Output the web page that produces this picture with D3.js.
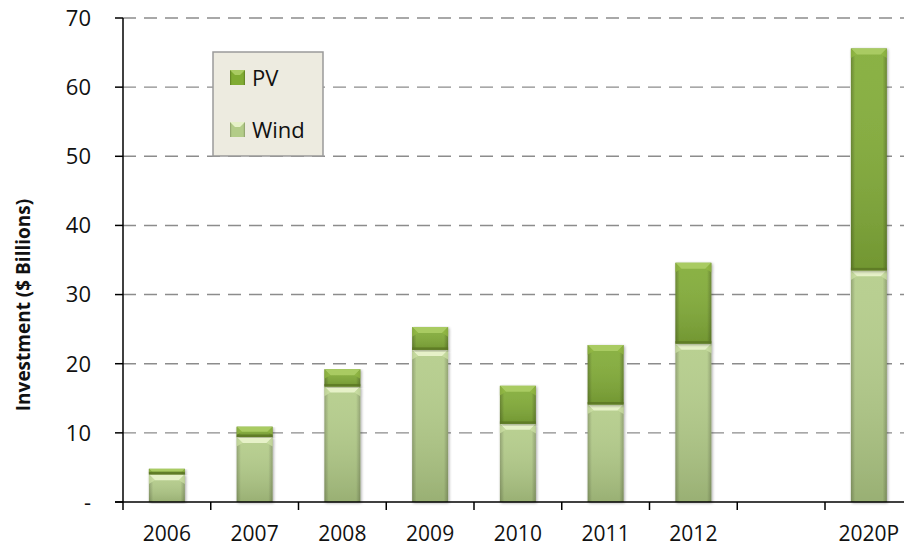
<!DOCTYPE html>
<html><head><meta charset="utf-8">
<script src="https://cdn.jsdelivr.net/npm/d3@7"></script>
<style>body{margin:0;background:#fff}svg{display:block}</style>
</head><body>
<svg id="c" width="904" height="548"></svg>
<script>
const categories = ["2006","2007","2008","2009","2010","2011","2012","","2020P"];
const windValues = [4.0, 9.4, 16.7, 22.0, 11.3, 14.1, 22.9, null, 33.5];
const pvValues   = [0.8, 1.5, 2.5, 3.3, 5.5, 8.6, 11.7, null, 32.1];
const yTicks = [0,10,20,30,40,50,60,70];
const seriesNames = ["PV","Wind"];

(function(){
const svg = d3.select("#c");
const FONT = "'Open Sans', sans-serif";
const left = 123, bottom = 502, topY = 18, step = 87.75;
const x = d3.scaleBand().domain(categories).range([left, left + step*categories.length])
  .paddingInner(0.59).paddingOuter(0.295);
const y = d3.scaleLinear().domain([0,70]).range([bottom, topY]);

const defs = svg.append("defs");
function hgrad(id, edge, mid){
  const g = defs.append("linearGradient").attr("id", id).attr("x1","0").attr("x2","1").attr("y1","0").attr("y2","0");
  [[0,edge],[0.12,mid],[0.5,mid],[0.88,mid],[1,edge]].forEach(([o,c])=>g.append("stop").attr("offset",o).attr("stop-color",c));
}
hgrad("gWind","#8a9c68","#b3cc88");
hgrad("gPV","#5d7c22","#80ab33");
const vW = defs.append("linearGradient").attr("id","vWind").attr("x1",0).attr("x2",0).attr("y1",0).attr("y2",1);
vW.append("stop").attr("offset",0).attr("stop-color","#fff").attr("stop-opacity",0.08);
vW.append("stop").attr("offset",1).attr("stop-color","#3c4a2a").attr("stop-opacity",0.22);
const sh = defs.append("filter").attr("id","sh").attr("x","-20%").attr("y","-5%").attr("width","140%").attr("height","110%");
sh.append("feGaussianBlur").attr("in","SourceAlpha").attr("stdDeviation",1.5).attr("result","b");
sh.append("feOffset").attr("in","b").attr("dx",1).attr("dy",1).attr("result","o");
sh.append("feComponentTransfer").attr("in","o").attr("result","o2").append("feFuncA").attr("type","linear").attr("slope",0.35);
const mg = sh.append("feMerge"); mg.append("feMergeNode").attr("in","o2"); mg.append("feMergeNode").attr("in","SourceGraphic");

// gridlines
svg.append("g").selectAll("line").data(yTicks.filter(t=>t>0)).join("line")
  .attr("x1", left).attr("x2", 904).attr("y1", d=>y(d)).attr("y2", d=>y(d))
  .attr("stroke","#8c8c8c").attr("stroke-width",1.4).attr("stroke-dasharray","13,8");

// bars
const data = categories.map((c,i)=>({c, w: windValues[i], p: pvValues[i]})).filter(d=>d.w!=null);
const bw = x.bandwidth();
function segment(g, x0, y0, y1, kind){
  const h = y1 - y0;
  const gg = g.append("g").attr("filter","url(#sh)");
  gg.append("rect").attr("x",x0).attr("y",y0).attr("width",bw).attr("height",h)
    .attr("fill", kind==="w" ? "url(#gWind)" : "url(#gPV)");
  gg.append("rect").attr("x",x0).attr("y",y0).attr("width",bw).attr("height",h).attr("fill","url(#vWind)");
  const b = Math.min(6, h/2);
  const hi = kind==="w" ? "#e6f1c8" : "#a9cb62";
  const hi2 = kind==="w" ? "#cfe2a6" : "#94bb45";
  gg.append("polygon").attr("points",[[x0,y0],[x0+bw,y0],[x0+bw-b,y0+b],[x0+b,y0+b]].join(" ")).attr("fill",hi);
  gg.append("polygon").attr("points",[[x0,y0],[x0+b,y0+b],[x0,y0+b*1.6]].join(" ")).attr("fill",hi2).attr("opacity",0.7);
  gg.append("polygon").attr("points",[[x0+bw,y0],[x0+bw-b,y0+b],[x0+bw,y0+b*1.6]].join(" ")).attr("fill",hi2).attr("opacity",0.7);
  if(kind==="p"){
    gg.append("rect").attr("x",x0).attr("y",y1-2.5).attr("width",bw).attr("height",2.5).attr("fill","#5a7424").attr("opacity",0.8);
  }
}
const bars = svg.append("g");
data.forEach(d=>{
  const x0 = x(d.c);
  segment(bars, x0, y(d.w), y(0), "w");
  segment(bars, x0, y(d.w + d.p), y(d.w), "p");
});

// axes
svg.append("line").attr("x1",left).attr("x2",left).attr("y1",y(70)).attr("y2",bottom).attr("stroke","#000").attr("stroke-width",1.5);
svg.append("line").attr("x1",left-8).attr("x2",904).attr("y1",bottom).attr("y2",bottom).attr("stroke","#000").attr("stroke-width",1.5);
const yt = svg.append("g").selectAll("g").data(yTicks).join("g");
yt.append("line").attr("x1",left-8).attr("x2",left).attr("y1",d=>y(d)).attr("y2",d=>y(d)).attr("stroke","#000").attr("stroke-width",1.5);
yt.append("text").attr("x",91).attr("y",d=>y(d)).attr("dy","0.36em").attr("text-anchor","end")
  .attr("font-family",FONT).attr("font-size",22).attr("fill","#111")
  .text(d=> d===0 ? "-" : d3.format("d")(d));
const bounds = d3.range(categories.length+1).map(i=>left + i*x.step());
svg.append("g").selectAll("line").data(bounds.filter(v=>v<904)).join("line")
  .attr("x1",d=>d).attr("x2",d=>d).attr("y1",bottom).attr("y2",bottom+8).attr("stroke","#000").attr("stroke-width",1.5);
svg.append("g").selectAll("text").data(categories).join("text")
  .attr("x",d=>x(d)+bw/2).attr("y",541).attr("text-anchor","middle")
  .attr("font-family",FONT).attr("font-size",21).attr("fill","#111").text(d=>d);

// y title
svg.append("text").attr("transform","translate(23,305) rotate(-90)").attr("text-anchor","middle").attr("dy","0.36em")
  .attr("font-family",FONT).attr("font-weight","bold").attr("font-size",19).attr("fill","#111")
  .text("Investment ($ Billions)");

// legend
const lg = svg.append("g");
lg.append("rect").attr("x",213).attr("y",52).attr("width",110).attr("height",104).attr("fill","#edebe0").attr("stroke","#9a9a9a").attr("stroke-width",1.5);
const legHi = {PV:"#a9cb62", Wind:"#e6f1c8"};
seriesNames.forEach((s,i)=>{
  const yy = 70 + i*52;
  const gg = lg.append("g");
  gg.append("rect").attr("x",230).attr("y",yy).attr("width",15).attr("height",15).attr("fill", s==="PV"?"url(#gPV)":"url(#gWind)");
  gg.append("polygon").attr("points",[[230,yy],[245,yy],[240,yy+5],[235,yy+5]].join(" ")).attr("fill",legHi[s]);
  gg.append("text").attr("x",252).attr("y",yy+8).attr("dy","0.36em").attr("font-family",FONT).attr("font-size",22).attr("fill","#111").text(s);
});
})();
</script>
</body></html>
